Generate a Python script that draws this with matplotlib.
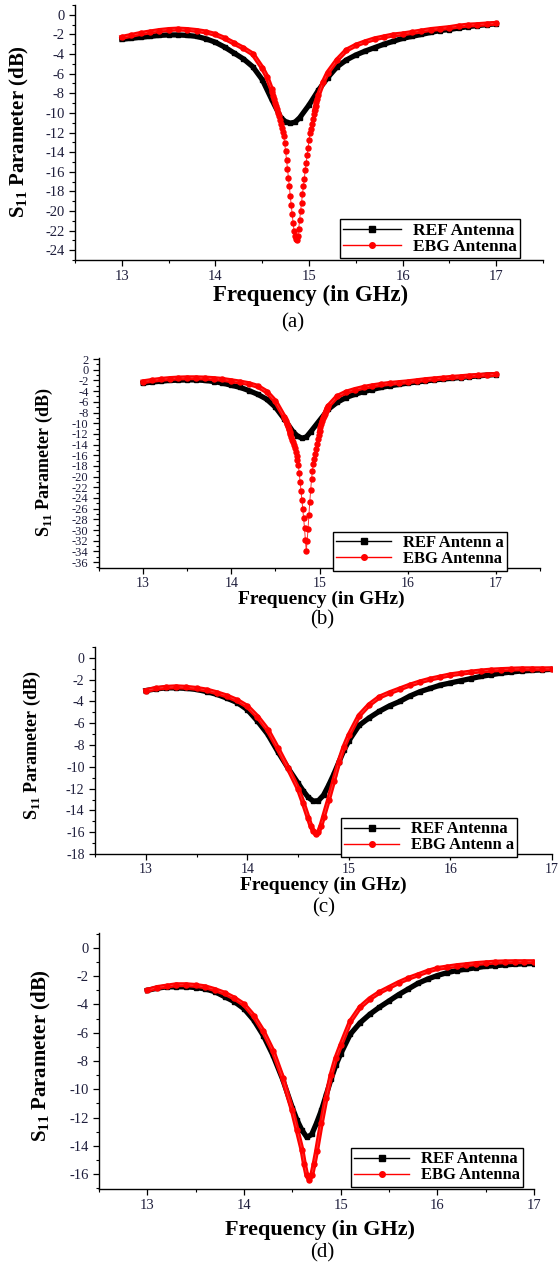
import numpy as np
import matplotlib
matplotlib.use('Agg')
import matplotlib.pyplot as plt
from matplotlib.lines import Line2D
from matplotlib.ticker import MultipleLocator

plt.rcParams['font.family'] = ['Liberation Serif', 'DejaVu Serif']
plt.rcParams['mathtext.fontset'] = 'custom'
plt.rcParams['mathtext.rm'] = 'Liberation Serif'
plt.rcParams['mathtext.bf'] = 'Liberation Serif:bold'
plt.rcParams['axes.unicode_minus'] = False

# ---- data (frequency in GHz, S11 in dB) ----
# (a)
ref_f_a = [13.0, 13.1, 13.2, 13.3, 13.4, 13.5, 13.6, 13.7, 13.8, 13.9, 14.0, 14.1, 14.2, 14.3, 14.4, 14.5,
           14.6, 14.7, 14.75, 14.8, 14.85, 14.9, 15.0, 15.1, 15.2, 15.3, 15.4, 15.5, 15.6, 15.7, 15.8, 15.9,
           16.0, 16.1, 16.2, 16.3, 16.4, 16.5, 16.6, 16.7, 16.8, 16.9, 17.0]
ref_s_a = [-2.5, -2.4, -2.3, -2.2, -2.1, -2.05, -2.05, -2.1, -2.2, -2.45, -2.8, -3.3, -3.9, -4.5, -5.3, -6.6,
           -8.6, -10.5, -10.9, -11.05, -10.95, -10.5, -9.2, -7.7, -6.4, -5.3, -4.6, -4.1, -3.7, -3.35, -3.0, -2.7,
           -2.4, -2.2, -2.0, -1.8, -1.6, -1.5, -1.35, -1.2, -1.1, -1.0, -0.92]
ebg_f_a = [13.0, 13.1, 13.2, 13.3, 13.4, 13.5, 13.6, 13.7, 13.8, 13.9, 14.0, 14.1, 14.2, 14.3, 14.4, 14.5, 14.55,
           14.60, 14.61, 14.62, 14.63, 14.64, 14.65, 14.66, 14.67, 14.68, 14.69,
           14.70, 14.71, 14.72, 14.73, 14.74, 14.75, 14.76, 14.77, 14.78, 14.79,
           14.80, 14.81, 14.82, 14.83, 14.84, 14.85, 14.86, 14.87, 14.88, 14.89,
           14.90, 14.91, 14.92, 14.93, 14.94, 14.95, 14.96, 14.97, 14.98, 14.99,
           15.00, 15.01, 15.02, 15.03, 15.04, 15.05, 15.06, 15.07, 15.08, 15.09, 15.10,
           15.15, 15.2, 15.3, 15.4, 15.5, 15.6, 15.7, 15.8, 15.9, 16.0, 16.1, 16.2, 16.3, 16.4, 16.5,
           16.6, 16.7, 16.8, 16.9, 17.0]
ebg_s_a = [-2.3, -2.1, -1.9, -1.75, -1.6, -1.5, -1.45, -1.5, -1.6, -1.75, -2.0, -2.4, -2.9, -3.4, -4.0, -5.4, -6.3,
           -7.6, -7.9, -8.3, -8.6, -9.0, -9.3, -9.6, -10.0, -10.3, -10.7,
           -11.1, -11.5, -11.9, -12.4, -13.1, -13.9, -14.8, -15.7, -16.6, -17.5,
           -18.5, -19.4, -20.3, -21.2, -22.0, -22.6, -22.9, -23.0, -22.6, -21.8,
           -20.9, -20.0, -19.2, -18.3, -17.5, -16.7, -15.8, -15.1, -14.3, -13.6,
           -12.8, -12.1, -11.6, -11.1, -10.6, -10.1, -9.7, -9.3, -8.9, -8.6, -8.2,
           -6.9, -5.9, -4.6, -3.6, -3.1, -2.75, -2.45, -2.25, -2.05, -1.95, -1.8, -1.65, -1.5, -1.4, -1.3,
           -1.15, -1.05, -1.0, -0.93, -0.87]

# (b)
ref_f_b = [13.0, 13.1, 13.2, 13.3, 13.4, 13.5, 13.6, 13.7, 13.8, 13.9, 14.0, 14.1, 14.2, 14.3, 14.4, 14.5,
           14.6, 14.7, 14.75, 14.8, 14.85, 14.9, 15.0, 15.1, 15.2, 15.3, 15.4, 15.5, 15.6, 15.7, 15.8, 15.9,
           16.0, 16.1, 16.2, 16.3, 16.4, 16.5, 16.6, 16.7, 16.8, 16.9, 17.0]
ref_s_b = [-2.5, -2.3, -2.15, -2.0, -1.95, -1.9, -1.9, -2.0, -2.2, -2.5, -2.9, -3.3, -3.9, -4.6, -5.5, -7.0,
           -9.2, -11.6, -12.4, -12.8, -12.6, -11.6, -9.5, -7.4, -6.1, -5.2, -4.6, -4.1, -3.7, -3.3, -3.0, -2.75,
           -2.5, -2.3, -2.1, -1.9, -1.75, -1.6, -1.45, -1.3, -1.15, -1.0, -0.9]
ebg_f_b = [13.0, 13.1, 13.2, 13.3, 13.4, 13.5, 13.6, 13.7, 13.8, 13.9, 14.0, 14.1, 14.2, 14.3, 14.4, 14.5, 14.6,
           14.61, 14.62, 14.63, 14.64, 14.65, 14.66, 14.67, 14.68, 14.69,
           14.70, 14.71, 14.72, 14.73, 14.74, 14.75, 14.76, 14.77, 14.78, 14.79,
           14.80, 14.81, 14.82, 14.83, 14.84, 14.85, 14.86, 14.87, 14.88, 14.89,
           14.90, 14.91, 14.92, 14.93, 14.94, 14.95, 14.96, 14.97, 14.98, 14.99,
           15.00, 15.01, 15.02, 15.03, 15.04, 15.05, 15.06, 15.07, 15.08, 15.09, 15.10,
           15.2, 15.3, 15.4, 15.5, 15.6, 15.7, 15.8, 15.9, 16.0, 16.1, 16.2, 16.3, 16.4, 16.5,
           16.6, 16.7, 16.8, 16.9, 17.0]
ebg_s_b = [-2.25, -2.0, -1.8, -1.65, -1.55, -1.5, -1.5, -1.55, -1.65, -1.8, -2.05, -2.3, -2.6, -3.1, -4.1, -5.9, -8.8,
           -9.2, -9.6, -10.1, -10.6, -11.1, -11.6, -12.1, -12.6, -13.1,
           -13.6, -14.1, -14.7, -15.4, -16.1, -16.9, -17.9, -19.3, -21.0, -22.6,
           -24.3, -26.0, -27.8, -29.6, -31.9, -33.9, -32.0, -29.8, -27.2, -24.7,
           -22.5, -20.4, -18.9, -17.6, -16.7, -15.8, -14.8, -13.9, -13.0, -12.2,
           -11.5, -10.8, -10.2, -9.6, -9.1, -8.6, -8.2, -7.8, -7.4, -7.1, -6.8,
           -5.0, -4.2, -3.7, -3.3, -3.0, -2.75, -2.55, -2.4, -2.25, -2.05, -1.85, -1.7, -1.55, -1.42,
           -1.3, -1.15, -1.05, -0.95, -0.87]

# (c)
ref_f_c = [13.0, 13.1, 13.2, 13.3, 13.4, 13.5, 13.6, 13.7, 13.8, 13.9, 14.0, 14.1, 14.2, 14.3, 14.4, 14.5,
           14.55, 14.6, 14.65, 14.7, 14.75, 14.8, 14.85, 14.9, 14.95,
           15.0, 15.1, 15.2, 15.3, 15.4, 15.5, 15.6, 15.7, 15.8, 15.9, 16.0, 16.1, 16.2, 16.3, 16.4, 16.5,
           16.6, 16.7, 16.8, 16.9, 17.0]
ref_s_c = [-3.0, -2.85, -2.75, -2.75, -2.8, -2.9, -3.1, -3.35, -3.7, -4.1, -4.75, -5.8, -7.0, -8.6, -10.1, -11.5,
           -12.2, -12.8, -13.15, -13.1, -12.6, -11.7, -10.7, -9.6, -8.5,
           -7.6, -6.2, -5.5, -4.9, -4.4, -4.0, -3.5, -3.1, -2.8, -2.5, -2.3, -2.1, -1.9, -1.7, -1.55, -1.4,
           -1.3, -1.2, -1.15, -1.1, -1.05]
ebg_f_c = [13.0, 13.1, 13.2, 13.3, 13.4, 13.5, 13.6, 13.7, 13.8, 13.9, 14.0, 14.1, 14.2, 14.3, 14.4, 14.5,
           14.55, 14.6, 14.625, 14.65, 14.675, 14.7, 14.725, 14.75, 14.8, 14.85, 14.9, 14.95,
           15.0, 15.1, 15.2, 15.3, 15.4, 15.5, 15.6, 15.7, 15.8, 15.9, 16.0, 16.1, 16.2, 16.3, 16.4, 16.5,
           16.6, 16.7, 16.8, 16.9, 17.0]
ebg_s_c = [-3.0, -2.8, -2.7, -2.65, -2.7, -2.8, -2.95, -3.2, -3.5, -3.9, -4.45, -5.4, -6.6, -8.3, -10.1, -12.0,
           -13.3, -14.7, -15.4, -15.9, -16.2, -16.0, -15.4, -14.6, -13.0, -11.3, -9.6, -8.2,
           -7.1, -5.3, -4.3, -3.6, -3.2, -2.85, -2.5, -2.2, -1.95, -1.75, -1.55, -1.42, -1.3, -1.2, -1.12, -1.07,
           -1.03, -1.0, -1.0, -1.0, -1.0]

# (d)
ref_f_d = [13.0, 13.1, 13.2, 13.3, 13.4, 13.5, 13.6, 13.7, 13.8, 13.9, 14.0, 14.1, 14.2, 14.3, 14.4, 14.5,
           14.55, 14.6, 14.65, 14.7, 14.75, 14.8, 14.85, 14.9, 14.95,
           15.0, 15.1, 15.2, 15.3, 15.4, 15.5, 15.6, 15.7, 15.8, 15.9, 16.0, 16.1, 16.2, 16.3, 16.4, 16.5,
           16.6, 16.7, 16.8, 16.9, 17.0]
ref_s_d = [-3.0, -2.85, -2.75, -2.75, -2.75, -2.8, -2.9, -3.1, -3.45, -3.8, -4.3, -5.1, -6.2, -7.6, -9.3, -11.3,
           -12.2, -12.9, -13.4, -13.2, -12.4, -11.5, -10.4, -9.3, -8.3,
           -7.5, -6.1, -5.3, -4.7, -4.2, -3.75, -3.3, -2.9, -2.5, -2.2, -1.95, -1.75, -1.6, -1.5, -1.4, -1.3,
           -1.25, -1.2, -1.15, -1.12, -1.1]
ebg_f_d = [13.0, 13.1, 13.2, 13.3, 13.4, 13.5, 13.6, 13.7, 13.8, 13.9, 14.0, 14.1, 14.2, 14.3, 14.4, 14.5,
           14.55, 14.6, 14.625, 14.65, 14.675, 14.7, 14.725, 14.75, 14.8, 14.85, 14.9, 14.95,
           15.0, 15.1, 15.2, 15.3, 15.4, 15.5, 15.6, 15.7, 15.8, 15.9, 16.0, 16.1, 16.2, 16.3, 16.4, 16.5,
           16.6, 16.7, 16.8, 16.9, 17.0]
ebg_s_d = [-3.0, -2.8, -2.7, -2.6, -2.6, -2.65, -2.75, -2.95, -3.2, -3.55, -4.0, -4.8, -5.9, -7.3, -9.2, -11.5,
           -12.9, -14.3, -15.3, -16.1, -16.4, -16.1, -15.3, -14.4, -12.4, -10.6, -9.0, -7.8,
           -6.9, -5.2, -4.2, -3.6, -3.15, -2.8, -2.45, -2.15, -1.9, -1.65, -1.45, -1.35, -1.25, -1.18, -1.1, -1.05,
           -1.0, -0.98, -0.97, -0.97, -0.97]

legend_a = ['REF Antenna', 'EBG Antenna']
legend_b = ['REF Antenn a', 'EBG Antenna']
legend_c = ['REF Antenna', 'EBG Antenn a']
legend_d = ['REF Antenna', 'EBG Antenna']

W, H = 558, 1266
fig = plt.figure(figsize=(W / 100, H / 100), dpi=100)


def box(l, r, t, b):
    # pixel edges -> figure fraction rect
    return [l / W, 1 - b / H, (r - l) / W, (b - t) / H]


panels = [
    dict(rect=box(75, 543, 5, 260), xlim=(12.5, 17.5), ylim=(-25, 1), ytick=10.5, xtick=10.5, xpad=3,
         ylab=15, ylab_xy=(19, 132), xlab=16.5, xlab_xy=(311, 295), sub='(a)', sub_xy=(293, 323),
         leg_xy=(340, 219), leg_size=12.5, names=legend_a, ref=(ref_f_a, ref_s_a), ebg=(ebg_f_a, ebg_s_a), cut=-10),
    dict(rect=box(99, 540, 358, 568), xlim=(12.5, 17.5), ylim=(-37.1, 2.2), ytick=9, xtick=10, xpad=2,
         ylab=13, ylab_xy=(44, 462), xlab=14, xlab_xy=(321, 599), sub='(b)', sub_xy=(322, 620),
         leg_xy=(333, 532), leg_size=12, names=legend_b, ref=(ref_f_b, ref_s_b), ebg=(ebg_f_b, ebg_s_b), cut=-12),
    dict(rect=box(95, 552, 647, 854), xlim=(12.5, 17.0), ylim=(-18, 1), ytick=10, xtick=10, xpad=2,
         ylab=13, ylab_xy=(32, 745), xlab=14, xlab_xy=(323, 885), sub='(c)', sub_xy=(324, 908),
         leg_xy=(341, 818), leg_size=12, names=legend_c, ref=(ref_f_c, ref_s_c), ebg=(ebg_f_c, ebg_s_c), cut=None),
    dict(rect=box(99, 534, 933, 1189), xlim=(12.5, 17.0), ylim=(-17.06, 1.06), ytick=10.5, xtick=10.5, xpad=3,
         ylab=15, ylab_xy=(41, 1056), xlab=16, xlab_xy=(320, 1230), sub='(d)', sub_xy=(322, 1253),
         leg_xy=(351, 1148), leg_size=12, names=legend_d, ref=(ref_f_d, ref_s_d), ebg=(ebg_f_d, ebg_s_d), cut=None),
]

for p in panels:
    ax = fig.add_axes(p['rect'])
    rf, rs = np.array(p['ref'][0]), np.array(p['ref'][1])
    ef, es = np.array(p['ebg'][0]), np.array(p['ebg'][1])

    # thick body of the curves (dense markers merge into a band)
    ax.plot(rf, rs, color='black', lw=3.8, solid_joinstyle='round', zorder=2)
    ax.plot(rf, rs, color='black', lw=0.8, marker='s', ms=3.4, mec='black', zorder=3)
    es_body = es if p['cut'] is None else np.where(es > p['cut'], es, np.nan)
    ax.plot(ef, es_body, color='red', lw=3.6, solid_joinstyle='round', zorder=4)
    ax.plot(ef, es, color='#ff3030', lw=0.7, marker='o', ms=3.6, mfc='red', mec='red', zorder=5)

    ax.set_xlim(*p['xlim'])
    ax.set_ylim(*p['ylim'])
    ax.xaxis.set_major_locator(MultipleLocator(1))
    ax.xaxis.set_minor_locator(MultipleLocator(0.5))
    ax.yaxis.set_major_locator(MultipleLocator(2))
    ax.yaxis.set_minor_locator(MultipleLocator(1))
    ax.tick_params(which='major', direction='out', length=4.5, width=0.9, labelcolor='#1e1e3c', pad=3)
    ax.tick_params(which='minor', direction='out', length=2.5, width=0.8)
    ax.tick_params(axis='x', labelsize=p['xtick'], pad=p['xpad'])
    ax.tick_params(axis='y', labelsize=p['ytick'])
    for side in ('top', 'right'):
        ax.spines[side].set_visible(False)
    for side in ('left', 'bottom'):
        ax.spines[side].set_linewidth(1.0)

    fig.text(p['ylab_xy'][0] / W, 1 - p['ylab_xy'][1] / H, r'S$_{\mathregular{11}}$ Parameter (dB)',
             rotation=90, ha='center', va='center', fontsize=p['ylab'], fontweight='bold')
    fig.text(p['xlab_xy'][0] / W, 1 - p['xlab_xy'][1] / H, 'Frequency (in GHz)',
             ha='center', va='center', fontsize=p['xlab'], fontweight='bold')
    fig.text(p['sub_xy'][0] / W, 1 - p['sub_xy'][1] / H, p['sub'],
             ha='center', va='center', fontsize=15)

    handles = [Line2D([], [], color='black', lw=1, marker='s', ms=4),
               Line2D([], [], color='red', lw=1, marker='o', ms=4)]
    leg = ax.legend(handles, p['names'], loc='upper left',
                    bbox_to_anchor=(p['leg_xy'][0] / W, 1 - p['leg_xy'][1] / H),
                    bbox_transform=fig.transFigure, borderaxespad=0, fancybox=False,
                    edgecolor='black', framealpha=1, handlelength=3.3, handletextpad=0.7,
                    borderpad=0.2, labelspacing=0.0, numpoints=1,
                    prop={'weight': 'bold', 'size': p['leg_size']})
    leg.get_frame().set_linewidth(1.0)

fig.savefig('out.png', dpi=100)
